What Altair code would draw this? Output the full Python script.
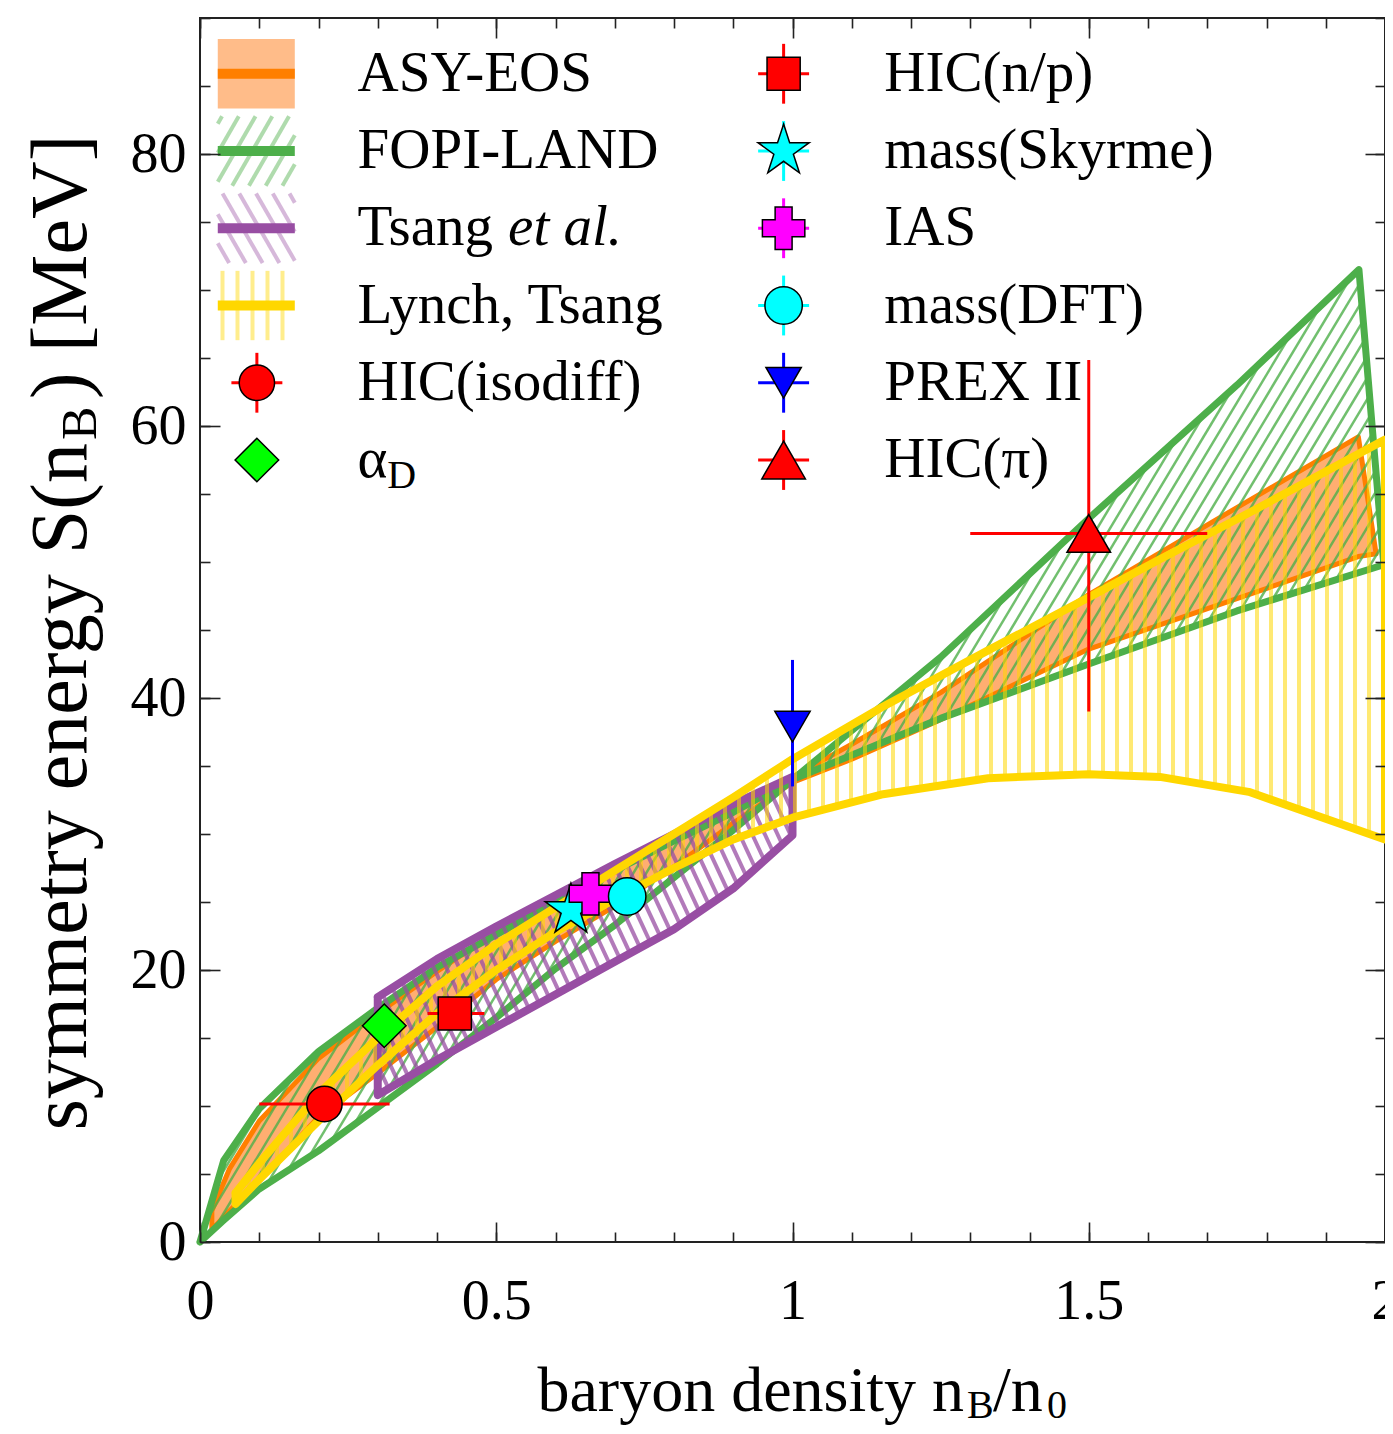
import numpy as np
import pandas as pd
import altair as alt

W, H = 1185, 1224
X_MAX, Y_MAX = 2.0, 90.0
FONT = "Liberation Serif"

# ---------------- bands ----------------
asy_x = [0.02, 0.05, 0.1, 0.2, 0.3, 0.4, 0.5, 0.6, 0.7, 0.8, 0.9, 1.0, 1.1, 1.25, 1.5, 1.75, 1.955, 1.985]
asy_hi = [2.3, 5.4, 8.9, 13.5, 16.8, 19.9, 22.8, 25.3, 27.7, 29.9, 32.0, 34.2, 36.6, 40.4, 47.6, 54.0, 59.2, 50.6]
asy_lo = [0.9, 2.3, 4.5, 9.2, 12.4, 15.8, 19.3, 22.1, 24.7, 27.6, 30.8, 33.8, 35.5, 38.4, 43.6, 47.3, 50.4, 50.6]

fopi_up_x = [0.0, 0.04, 0.1, 0.2, 0.3, 0.4, 0.5, 0.6, 0.7, 0.8, 0.9, 1.0, 1.1, 1.25, 1.5, 1.75, 1.956]
fopi_up_y = [0.0, 6.0, 9.8, 14.0, 17.2, 20.2, 22.6, 25.0, 27.3, 29.5, 31.6, 34.0, 37.6, 43.0, 53.2, 63.0, 71.5]
fopi_lo_x = [0.0, 0.04, 0.1, 0.2, 0.3, 0.4, 0.5, 0.6, 0.7, 0.8, 0.9, 1.0, 1.25, 1.5, 1.75, 1.998]
fopi_lo_y = [0.0, 1.6, 3.9, 6.7, 9.9, 13.1, 16.5, 20.1, 23.3, 26.8, 30.3, 34.0, 38.5, 42.5, 46.4, 49.8]

tsang_x = [0.3, 0.4, 0.5, 0.6, 0.7, 0.8, 0.9, 1.0]
tsang_hi = [18.0, 20.8, 23.2, 25.5, 27.8, 30.0, 32.2, 34.2]
tsang_lo = [10.8, 13.4, 15.8, 18.2, 20.6, 23.0, 26.0, 29.9]

lynch_x = [0.06, 0.1, 0.2, 0.3, 0.4, 0.5, 0.6, 0.7, 0.8, 0.9, 1.0, 1.15, 1.33, 1.5, 1.62, 1.77, 2.0]
lynch_hi = [3.6, 5.8, 10.9, 15.0, 18.8, 21.9, 24.6, 27.3, 30.0, 32.7, 35.5, 39.3, 43.5, 47.4, 50.2, 53.6, 59.0]
lynch_lo = [2.8, 4.6, 8.9, 13.0, 16.8, 20.0, 22.8, 25.2, 27.5, 29.6, 31.2, 32.9, 34.1, 34.4, 34.2, 33.1, 29.6]

# ---------------- data points ----------------
STAR = ("M0,-1L0.225,-0.309L0.951,-0.309L0.363,0.118L0.588,0.809L0,0.382"
        "L-0.588,0.809L-0.363,0.118L-0.951,-0.309L-0.225,-0.309Z")
pt_name = ["HIC(isodiff)", "αD", "HIC(n/p)", "mass(Skyrme)", "IAS", "mass(DFT)", "PREX II", "HIC(π)"]
pt_x = [0.21, 0.311, 0.43, 0.626, 0.659, 0.721, 1.0, 1.5]
pt_y = [10.15, 15.9, 16.8, 24.4, 25.6, 25.4, 37.9, 52.1]
pt_xlo = [0.10, None, 0.384, None, None, None, None, 1.30]
pt_xhi = [0.32, None, 0.48, None, None, None, None, 1.70]
pt_ylo = [None, None, None, None, None, None, 33.5, 39.0]
pt_yhi = [None, None, None, None, None, None, 42.8, 64.85]
pt_shape = ["circle", "diamond", "square", STAR, "cross", "circle", "triangle-down", "triangle-up"]
pt_fill = ["#FF0000", "#00FF00", "#FF0000", "#00FFFF", "#FF00FF", "#00FFFF", "#0000FF", "#FF0000"]
pt_bar = ["#FF0000", "#00CC00", "#FF0000", "#00FFFF", "#FF00FF", "#00FFFF", "#0000FF", "#FF0000"]
pt_size = [1250, 1900, 1100, 2900, 1800, 1400, 1250, 1900]

# ---------------- legend ----------------
leg_rows_y = [85.9, 80.22, 74.54, 68.86, 63.18, 57.5]
leg_left_text = ["ASY-EOS", "FOPI-LAND", "Tsang", "Lynch, Tsang", "HIC(isodiff)", "α"]
leg_right_text = ["HIC(n/p)", "mass(Skyrme)", "IAS", "mass(DFT)", "PREX II", "HIC(π)"]

x_major = [0, 0.5, 1, 1.5, 2]
x_minor = [0, 0.1, 0.2, 0.3, 0.4, 0.5, 0.6, 0.7, 0.8, 0.9, 1.0, 1.1, 1.2, 1.3, 1.4, 1.5, 1.6, 1.7, 1.8, 1.9, 2.0]
y_major = [0, 20, 40, 60, 80]
y_minor = [0, 5, 10, 15, 20, 25, 30, 35, 40, 45, 50, 55, 60, 65, 70, 75, 80, 85, 90]

GREEN, PURPLE, ORANGE, YELLOW = "#4DAF4A", "#984EA3", "#FF7F00", "#FFD700"

xs = alt.Scale(domain=[0, X_MAX], nice=False, zero=False)
ys = alt.Scale(domain=[0, Y_MAX], nice=False, zero=False)


def XE(f="x"):
    return alt.X(f"{f}:Q", scale=xs, axis=None)


def YE(f="y"):
    return alt.Y(f"{f}:Q", scale=ys, axis=None)


def hatch(px, py, angle, spacing):
    X = np.asarray(px, float) / X_MAX * W
    Y = np.asarray(py, float) / Y_MAX * H
    th = np.radians(angle)
    ux, uy = np.cos(th), np.sin(th)
    vx, vy = -uy, ux
    pv = X * vx + Y * vy
    n = len(X)
    rows = []
    k0 = int(np.floor(pv.min() / spacing)) - 1
    k1 = int(np.ceil(pv.max() / spacing)) + 1
    for k in range(k0, k1 + 1):
        c = (k + 0.5) * spacing
        hits = []
        for i in range(n):
            j = (i + 1) % n
            s1, s2 = pv[i] - c, pv[j] - c
            if (s1 < 0) != (s2 < 0):
                t = s1 / (s1 - s2)
                hx = X[i] + t * (X[j] - X[i])
                hy = Y[i] + t * (Y[j] - Y[i])
                hits.append((hx * ux + hy * uy, hx, hy))
        hits.sort()
        for a in range(0, len(hits) - 1, 2):
            _, x1, y1 = hits[a]
            _, x2, y2 = hits[a + 1]
            rows.append({"x": x1 / W * X_MAX, "y": y1 / H * Y_MAX,
                         "x2": x2 / W * X_MAX, "y2": y2 / H * Y_MAX})
    return pd.DataFrame(rows, columns=["x", "y", "x2", "y2"])


def rules(df, color, width, opacity=1.0):
    return alt.Chart(df).mark_rule(color=color, strokeWidth=width, opacity=opacity).encode(
        x=XE(), y=YE(), x2="x2:Q", y2="y2:Q")


def outline(px, py, color, width):
    px, py = list(px), list(py)
    df = pd.DataFrame({"x": px + [px[0]], "y": py + [py[0]], "o": list(range(len(px) + 1))})
    return alt.Chart(df).mark_line(color=color, strokeWidth=width, strokeJoin="round",
                                   strokeCap="round").encode(x=XE(), y=YE(), order="o:Q")


def poly(xu, yu, xl, yl):
    return list(xu) + list(xl)[::-1], list(yu) + list(yl)[::-1]


asy_px, asy_py = poly(asy_x, asy_hi, asy_x, asy_lo)
fopi_px, fopi_py = poly(fopi_up_x, fopi_up_y, fopi_lo_x, fopi_lo_y)
tsang_px, tsang_py = poly(tsang_x, tsang_hi, tsang_x, tsang_lo)
lynch_px, lynch_py = poly(lynch_x, lynch_hi, lynch_x, lynch_lo)

layers = []

# ---- axis carriers (invisible marks that only hold the axes) ----
base_ax = dict(domain=False, grid=False, title=None, tickColor="#222", tickWidth=1.6, zindex=1,
               labelFlush=False, labelOverlap=False)
carrier_df = pd.DataFrame({"x": [0.0], "y": [0.0]})


def carrier(xaxis, yaxis):
    return alt.Chart(carrier_df).mark_point(opacity=0).encode(
        x=alt.X("x:Q", scale=xs, axis=xaxis), y=alt.Y("y:Q", scale=ys, axis=yaxis))


lab = dict(labelFont=FONT, labelFontSize=56, labelColor="black")
layers.append(carrier(
    alt.Axis(orient="bottom", values=x_major, offset=-20, tickSize=20, labels=True, labelPadding=32,
             format="~g", **lab, **base_ax),
    alt.Axis(orient="left", values=y_major, offset=-20, tickSize=20, labels=True, labelPadding=14,
             format="d", **lab, **base_ax)))
layers.append(carrier(
    alt.Axis(orient="bottom", values=x_minor, offset=-10, tickSize=10, labels=False, **base_ax),
    alt.Axis(orient="left", values=y_minor, offset=-10, tickSize=10, labels=False, **base_ax)))
layers.append(carrier(
    alt.Axis(orient="top", values=x_major, offset=-20, tickSize=20, labels=False, **base_ax),
    alt.Axis(orient="right", values=y_major, offset=-20, tickSize=20, labels=False, **base_ax)))
layers.append(carrier(
    alt.Axis(orient="top", values=x_minor, offset=-10, tickSize=10, labels=False, **base_ax),
    alt.Axis(orient="right", values=y_minor, offset=-10, tickSize=10, labels=False, **base_ax)))

# ---- ASY-EOS ----
asy_df = pd.DataFrame({"x": asy_x, "hi": asy_hi, "lo": asy_lo})
layers.append(alt.Chart(asy_df).mark_area(color="#FF8F3A", opacity=0.72).encode(
    x=XE(), y=alt.Y("hi:Q", scale=ys, axis=None), y2="lo:Q"))
layers.append(outline(asy_px, asy_py, ORANGE, 5))

# ---- FOPI-LAND ----
layers.append(rules(hatch(fopi_px, fopi_py, 59, 11.0), GREEN, 2.5, 0.8))
layers.append(outline(fopi_px, fopi_py, GREEN, 7))

# ---- Tsang et al. ----
layers.append(rules(hatch(tsang_px, tsang_py, 115, 11.5), PURPLE, 4, 0.75))
layers.append(outline(tsang_px, tsang_py, PURPLE, 8))

# ---- Lynch, Tsang ----
layers.append(rules(hatch(lynch_px, lynch_py, 90, 14.0), YELLOW, 4, 0.55))
layers.append(outline(lynch_px, lynch_py, YELLOW, 8))

# ---- error bars and points ----
pts = pd.DataFrame({"name": pt_name, "x": pt_x, "y": pt_y, "xlo": pt_xlo, "xhi": pt_xhi,
                    "ylo": pt_ylo, "yhi": pt_yhi, "shape": pt_shape, "fill": pt_fill,
                    "bar": pt_bar, "size": pt_size})
hb = pts.dropna(subset=["xlo"])[["x", "y", "xlo", "xhi", "bar"]]
vb = pts.dropna(subset=["ylo"])[["x", "y", "ylo", "yhi", "bar"]]
layers.append(alt.Chart(hb).mark_rule(strokeWidth=3).encode(
    x=alt.X("xlo:Q", scale=xs, axis=None), x2="xhi:Q", y=YE(), color=alt.Color("bar:N", scale=None)))
layers.append(alt.Chart(vb).mark_rule(strokeWidth=3).encode(
    x=XE(), y=alt.Y("ylo:Q", scale=ys, axis=None), y2="yhi:Q", color=alt.Color("bar:N", scale=None)))


def symbols(df):
    return alt.Chart(df).mark_point(filled=True, opacity=1, stroke="black", strokeWidth=1.5).encode(
        x=XE(), y=YE(), shape=alt.Shape("shape:N", scale=None), fill=alt.Fill("fill:N", scale=None),
        size=alt.Size("size:Q", scale=None))


layers.append(symbols(pts[["x", "y", "shape", "fill", "size"]]))

# ---------------- legend ----------------
SW_X0, SW_X1, SW_H = 0.03, 0.16, 2.55
LX_SYM, LX_TXT = 0.096, 0.266
RX_SYM, RX_TXT = 0.985, 1.155

r0 = leg_rows_y[0]
layers.append(alt.Chart(pd.DataFrame({"x": [SW_X0], "x2": [SW_X1], "y": [r0 - SW_H], "y2": [r0 + SW_H]}))
              .mark_rect(color="#FF8F3A", opacity=0.6).encode(x=XE(), x2="x2:Q", y=YE(), y2="y2:Q"))


def rect_poly(y):
    return [SW_X0, SW_X1, SW_X1, SW_X0], [y - SW_H, y - SW_H, y + SW_H, y + SW_H]


gx, gy = rect_poly(leg_rows_y[1])
layers.append(rules(hatch(gx, gy, 60, 14.5), GREEN, 4, 0.45))
px_, py_ = rect_poly(leg_rows_y[2])
layers.append(rules(hatch(px_, py_, 120, 14.5), PURPLE, 4, 0.4))
yx, yy = rect_poly(leg_rows_y[3])
layers.append(rules(hatch(yx, yy, 90, 15.0), YELLOW, 4, 0.45))

leg_lines = pd.DataFrame({"x": [SW_X0] * 4, "x2": [SW_X1] * 4, "y": leg_rows_y[:4],
                          "c": [ORANGE, GREEN, PURPLE, YELLOW]})
layers.append(alt.Chart(leg_lines).mark_rule(strokeWidth=10).encode(
    x=XE(), x2="x2:Q", y=YE(), color=alt.Color("c:N", scale=None)))

cross_x = [LX_SYM] + [RX_SYM] * 6
cross_y = [leg_rows_y[4]] + leg_rows_y
cross_c = ["#FF0000", "#FF0000", "#00FFFF", "#FF00FF", "#00FFFF", "#0000FF", "#FF0000"]
cdf = pd.DataFrame({"x": cross_x, "y": cross_y, "c": cross_c})
cdf["xa"] = cdf["x"] - 0.043
cdf["xb"] = cdf["x"] + 0.043
cdf["ya"] = cdf["y"] - 2.2
cdf["yb"] = cdf["y"] + 2.2
layers.append(alt.Chart(cdf).mark_rule(strokeWidth=3).encode(
    x=alt.X("xa:Q", scale=xs, axis=None), x2="xb:Q", y=YE(), color=alt.Color("c:N", scale=None)))
layers.append(alt.Chart(cdf).mark_rule(strokeWidth=3).encode(
    x=XE(), y=alt.Y("ya:Q", scale=ys, axis=None), y2="yb:Q", color=alt.Color("c:N", scale=None)))

leg_sym = pd.DataFrame({
    "x": [LX_SYM, LX_SYM] + [RX_SYM] * 6,
    "y": leg_rows_y[4:6] + leg_rows_y,
    "shape": [pt_shape[0], pt_shape[1]] + pt_shape[2:],
    "fill": [pt_fill[0], pt_fill[1]] + pt_fill[2:],
    "size": [pt_size[0], pt_size[1]] + pt_size[2:],
})
layers.append(symbols(leg_sym))

txt = pd.DataFrame({"x": [LX_TXT] * 6 + [RX_TXT] * 6, "y": leg_rows_y + leg_rows_y,
                    "t": leg_left_text + leg_right_text})
layers.append(alt.Chart(txt).mark_text(font=FONT, fontSize=57, align="left", baseline="middle",
                                       color="black").encode(x=XE(), y=YE(), text="t:N"))
layers.append(alt.Chart(pd.DataFrame({"x": [0.52], "y": [leg_rows_y[2]], "t": ["et al."]}))
              .mark_text(font=FONT, fontSize=57, fontStyle="italic", align="left", baseline="middle",
                         color="black").encode(x=XE(), y=YE(), text="t:N"))
layers.append(alt.Chart(pd.DataFrame({"x": [0.316], "y": [leg_rows_y[5] - 1.2], "t": ["D"]}))
              .mark_text(font=FONT, fontSize=40, align="left", baseline="middle",
                         color="black").encode(x=XE(), y=YE(), text="t:N"))


# ---------------- axis titles (composed for subscripts) ----------------
def label(text, x, y, size, align, angle=0):
    return alt.Chart(pd.DataFrame({"t": [text]})).mark_text(
        font=FONT, fontSize=size, align=align, baseline="alphabetic", angle=angle, color="black"
    ).encode(x=alt.value(x), y=alt.value(y), text="t:N")


layers.append(label("baryon density n", 764, 1393, 64, "right"))
layers.append(label("B", 767, 1400, 40, "left"))
layers.append(label("/n", 793, 1393, 64, "left"))
layers.append(label("0", 847, 1400, 40, "left"))

layers.append(label("symmetry energy S(n", -114, 425, 80, "right", 270))
layers.append(label("B", -104, 422, 50, "left", 270))
layers.append(label(") [MeV]", -114, 381, 80, "left", 270))

chart = alt.layer(*layers).resolve_axis(x="independent", y="independent").properties(
    width=W, height=H,
    padding={"left": 192, "top": 10, "right": 0, "bottom": 186},
    autosize=alt.AutoSizeParams(type="none"),
).configure_view(stroke="#222", strokeWidth=2)

chart.save("out.html", embed_options={"renderer": "svg", "actions": False})
